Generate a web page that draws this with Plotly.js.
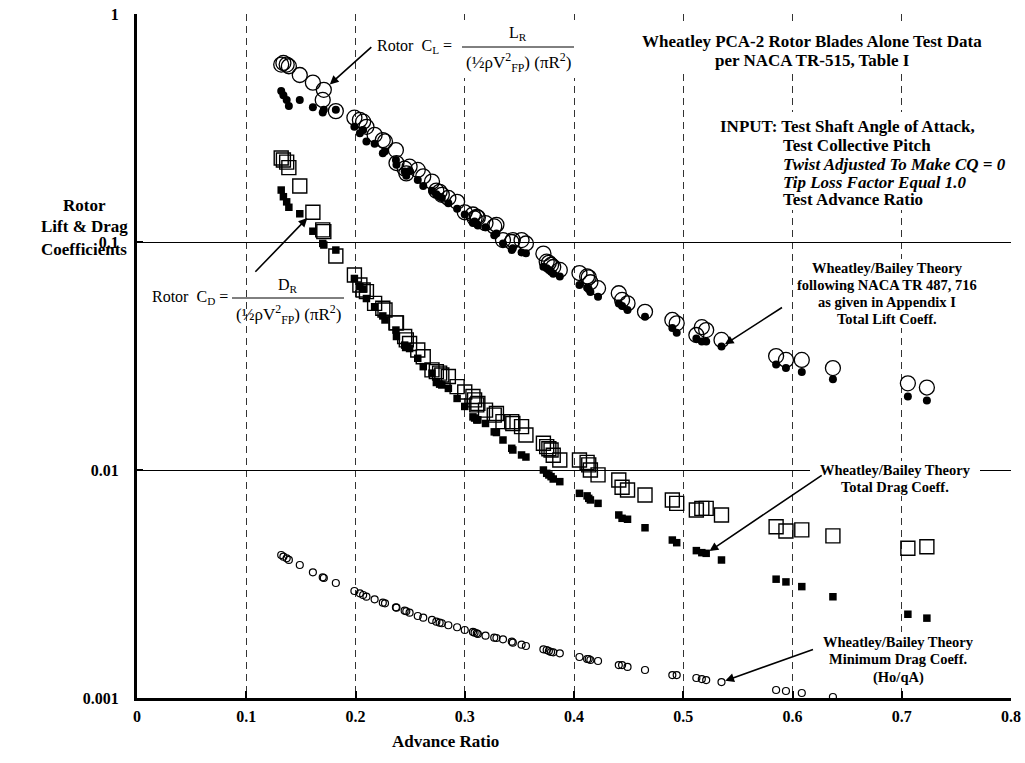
<!DOCTYPE html>
<html>
<head>
<meta charset="utf-8">
<script src="https://cdn.plot.ly/plotly-3.0.1.min.js"></script>
<style>html,body{margin:0;padding:0;background:#fff;}#chart{width:1025px;height:763px;}</style>
</head>
<body>
<div id="chart"></div>
<script>
// Advance ratio of each test run
const mu = [0.132,0.134,0.137,0.139,0.149,0.161,0.170,0.171,0.182,0.199,0.204,0.207,0.210,0.2175,0.225,0.227,0.237,0.2375,0.245,0.2465,0.2495,0.257,0.262,0.270,0.274,0.277,0.279,0.285,0.293,0.300,0.3075,0.309,0.311,0.312,0.319,0.327,0.329,0.335,0.343,0.344,0.352,0.356,0.372,0.375,0.377,0.379,0.381,0.387,0.405,0.412,0.4135,0.415,0.422,0.441,0.444,0.449,0.465,0.490,0.494,0.512,0.517,0.521,0.535,0.585,0.594,0.6085,0.637,0.7056,0.723];
// Test lift coefficient (large open circles)
const clTest = [0.60,0.61,0.60,0.59,0.54,0.50,0.42,0.465,0.375,0.351,0.343,0.337,0.32,0.295,0.28,0.276,0.253,0.222,0.210,0.200,0.214,0.207,0.194,0.184,0.168,0.166,0.161,0.156,0.150,0.135,0.132,0.127,0.129,0.128,0.121,0.117,0.119,0.102,0.100,0.102,0.102,0.0985,0.089,0.082,0.081,0.0793,0.0777,0.0754,0.0731,0.0706,0.070,0.0666,0.0627,0.0596,0.0557,0.0538,0.0494,0.0455,0.044,0.0391,0.0423,0.0411,0.0372,0.0316,0.0304,0.0304,0.028,0.024,0.023];
// Wheatley/Bailey theory total lift coefficient (filled circles)
const clTheory = [0.46,0.44,0.42,0.395,0.42,0.39,0.37,0.38,0.38,0.32,0.30,0.31,0.276,0.27,0.245,0.25,0.229,0.218,0.204,0.195,0.205,0.187,0.176,0.168,0.162,0.158,0.156,0.148,0.140,0.132,0.121,0.123,0.120,0.118,0.116,0.107,0.109,0.0985,0.0922,0.0938,0.090,0.0892,0.0779,0.0768,0.0754,0.074,0.0725,0.0705,0.0648,0.063,0.062,0.0603,0.0575,0.0538,0.0524,0.0503,0.047,0.042,0.040,0.0377,0.0366,0.0366,0.0348,0.029,0.028,0.0269,0.025,0.021,0.0202];
// Test drag coefficient (large open squares)
const cdTest = [0.2336,0.229,0.224,0.212,0.176,0.135,0.113,0.111,0.0868,0.0717,0.0648,0.0616,0.0606,0.0538,0.0512,0.0503,0.0442,0.0442,0.0385,0.0372,0.0359,0.0336,0.0314,0.0275,0.027,0.0266,0.0261,0.0257,0.0232,0.022,0.021,0.0203,0.0193,0.0196,0.0183,0.0174,0.0177,0.0163,0.0163,0.016,0.0155,0.01424,0.0131,0.01266,0.0124,0.01224,0.0116,0.01106,0.01106,0.0108,0.01053,0.0100,0.00952,0.00904,0.0084,0.00817,0.00777,0.00739,0.00714,0.00668,0.00679,0.00679,0.00635,0.00564,0.0054,0.00546,0.00514,0.00454,0.00461];
// Wheatley/Bailey theory total drag coefficient (filled squares)
const cdTheory = [0.169,0.158,0.150,0.142,0.133,0.1115,0.0986,0.097,0.0922,0.0692,0.0637,0.0622,0.0565,0.052,0.0474,0.0455,0.0411,0.0385,0.0353,0.0349,0.0341,0.0309,0.0284,0.0266,0.0242,0.0238,0.0236,0.0228,0.0206,0.019,0.0171,0.0169,0.01657,0.0166,0.016,0.0147,0.0146,0.01354,0.01245,0.01224,0.01164,0.0114,0.0100,0.00967,0.00951,0.00935,0.00913,0.00889,0.0079,0.0077,0.00751,0.00739,0.00714,0.00635,0.00614,0.00608,0.00558,0.00493,0.0048,0.00443,0.00434,0.00431,0.00403,0.00332,0.00323,0.00308,0.00278,0.00233,0.00224];
// Wheatley/Bailey theory minimum drag coefficient Ho/qA (small open circles)
const cdMin = [0.004239,0.004167,0.0041,0.004031,0.003832,0.003559,0.003384,0.00336,0.003194,0.002946,0.002879,0.00283,0.002782,0.002709,0.002618,0.002602,0.002499,0.002489,0.002415,0.002401,0.002367,0.002289,0.00225,0.002199,0.002161,0.00214,0.002127,0.002085,0.002043,0.001987,0.001948,0.001934,0.001922,0.001909,0.001876,0.001839,0.001833,0.001809,0.001766,0.001748,0.001713,0.001691,0.001635,0.001624,0.001607,0.001591,0.001586,0.00157,0.001513,0.001483,0.001483,0.001468,0.001453,0.001395,0.001395,0.001368,0.001327,0.001261,0.001261,0.001224,0.001211,0.001199,0.001175,0.001084,0.001073,0.001052,0.00101,null,null];

const xTickVals = [0,0.1,0.2,0.3,0.4,0.5,0.6,0.7,0.8];
const xTickText = ['0','0.1','0.2','0.3','0.4','0.5','0.6','0.7','0.8'];
const yTickVals = [0.001,0.01,0.1,1];
const yTickText = ['0.001','0.01','0.1','1'];

const SERIF = "'Liberation Serif', 'Times New Roman', Times, serif";
const L = 137, R = 14, T = 14, B = 65, W = 1025, H = 763;
const PW = W - L - R, PH = H - T - B;
const px = v => (v - L) / PW;          // page pixel -> paper x
const py = v => (H - B - v) / PH;      // page pixel -> paper y

const traces = [
  {x: mu, y: clTest, mode: 'markers', type: 'scatter', name: 'CL test',
   marker: {symbol: 'circle-open', size: 15, color: '#000', line: {width: 1.3, color: '#000'}}},
  {x: mu, y: cdTest, mode: 'markers', type: 'scatter', name: 'CD test',
   marker: {symbol: 'square-open', size: 14, color: '#000', line: {width: 1.4, color: '#000'}}},
  {x: mu, y: clTheory, mode: 'markers', type: 'scatter', name: 'CL theory',
   marker: {symbol: 'circle', size: 8, color: '#000'}},
  {x: mu, y: cdTheory, mode: 'markers', type: 'scatter', name: 'CD theory',
   marker: {symbol: 'square', size: 7.5, color: '#000'}},
  {x: mu, y: cdMin, mode: 'markers', type: 'scatter', name: 'CD min', cliponaxis: false,
   marker: {symbol: 'circle-open', size: 7, color: '#000', line: {width: 1.2, color: '#000'}}}
];

function txt(text, cx, cy, size, opts) {
  return Object.assign({
    xref: 'paper', yref: 'paper', x: px(cx), y: py(cy), text: text, showarrow: false,
    xanchor: 'center', yanchor: 'middle',
    font: {family: SERIF, size: size, color: '#000', weight: 'bold'}
  }, opts || {});
}
function reg(text, cx, cy, size, anchor) {
  return txt(text, cx, cy, size, {xanchor: anchor || 'center', font: {family: SERIF, size: size, color: '#000'}});
}
function arrow(i, series, ax, ay, sd) {
  return {xref: 'x', yref: 'y', x: mu[i], y: Math.log10(series[i]), text: '', showarrow: true,
    ax: ax, ay: ay, axref: 'pixel', ayref: 'pixel', arrowhead: 2, arrowsize: 1.1, arrowwidth: 1.6,
    arrowcolor: '#000', standoff: sd};
}
function box(x0, y0, x1, y1) {
  return {type: 'rect', xref: 'paper', yref: 'paper', x0: px(x0), x1: px(x1), y0: py(y1), y1: py(y0),
    fillcolor: '#fff', line: {width: 0}, layer: 'above'};
}
function bar(x0, x1, y) {
  return {type: 'line', xref: 'paper', yref: 'paper', x0: px(x0), x1: px(x1), y0: py(y), y1: py(y),
    line: {color: '#000', width: 1}, layer: 'above'};
}

const annotations = [
  // y axis title
  txt('Rotor', 84, 205, 17),
  txt('Lift &amp; Drag', 84, 227, 17),
  txt('Coefficients', 84, 249, 17),
  // x axis title
  txt('Advance Ratio', 445, 741, 17),
  // header
  txt('Wheatley PCA-2 Rotor Blades Alone Test Data', 812, 41, 17),
  txt('per NACA TR-515, Table I', 812, 60, 17),
  txt('INPUT: Test Shaft Angle of Attack,', 718, 126, 17, {xanchor: 'left'}),
  txt('Test Collective Pitch', 781, 145, 17, {xanchor: 'left'}),
  txt('<i>Twist Adjusted To Make CQ = 0</i>', 781, 164, 17, {xanchor: 'left'}),
  txt('<i>Tip Loss Factor Equal 1.0</i>', 781, 182, 17, {xanchor: 'left'}),
  txt('Test Advance Ratio', 781, 200, 17, {xanchor: 'left'}),
  // CL formula
  reg('Rotor  C<sub>L</sub> =', 375, 46, 16, 'left'),
  reg('L<sub>R</sub>', 518, 33, 16),
  reg('(½ρV<sup>2</sup><sub>FP</sub>) (πR<sup>2</sup>)', 518, 62, 17),
  // CD formula
  reg('Rotor  C<sub>D</sub> =', 150, 297, 16, 'left'),
  reg('D<sub>R</sub>', 288, 285, 16),
  reg('(½ρV<sup>2</sup><sub>FP</sub>) (πR<sup>2</sup>)', 288, 314, 17),
  // theory labels
  txt('Wheatley/Bailey Theory', 887, 268, 14.5),
  txt('following NACA TR 487, 716', 887, 285, 14.5),
  txt('as given in Appendix I', 887, 302, 14.5),
  txt('Total Lift Coeff.', 887, 319, 14.5),
  txt('Wheatley/Bailey Theory', 895, 470, 14.5),
  txt('Total Drag Coeff.', 895, 487, 14.5),
  txt('Wheatley/Bailey Theory', 898, 642, 14.5),
  txt('Minimum Drag Coeff.', 898, 659, 14.5),
  txt('(Ho/qA)', 898, 677, 14.5),
  // arrows
  arrow(7, clTest, 49, -44, 8),
  arrow(5, cdTest, -59, 61, 8),
  arrow(62, clTheory, 62, -40, 4),
  arrow(61, cdTheory, 117, -79, 4),
  arrow(62, cdMin, 93, -33, 4)
];

const shapes = [
  box(368, 20, 584, 78),
  box(628, 24, 996, 70),
  box(704, 112, 992, 210),
  box(806, 259, 970, 328),
  box(810, 461, 980, 496),
  box(818, 632, 978, 688),
  bar(462, 574, 47),
  bar(232, 344, 298)
];

const layout = {
  width: W, height: H,
  margin: {l: L, r: R, t: T, b: B, pad: 0},
  paper_bgcolor: '#fff', plot_bgcolor: '#fff',
  showlegend: false,
  font: {family: SERIF, color: '#000'},
  xaxis: {
    range: [0, 0.8], tickvals: xTickVals, ticktext: xTickText,
    ticks: 'inside', ticklen: 7, tickwidth: 2, tickcolor: '#000',
    showline: true, linewidth: 3, linecolor: '#000',
    showgrid: true, gridcolor: '#333', gridwidth: 1, griddash: '7px,5px',
    zeroline: false, ticklabelstandoff: 2,
    tickfont: {family: SERIF, size: 16, color: '#000', weight: 'bold'}
  },
  yaxis: {
    type: 'log', range: [-3, 0], tickvals: yTickVals, ticktext: yTickText,
    ticks: 'inside', ticklen: 6, tickwidth: 2, tickcolor: '#000',
    showline: true, linewidth: 3, linecolor: '#000',
    showgrid: true, gridcolor: '#000', gridwidth: 1,
    zeroline: false, ticklabelstandoff: 12,
    tickfont: {family: SERIF, size: 16, color: '#000', weight: 'bold'}
  },
  annotations: annotations,
  shapes: shapes
};

Plotly.newPlot('chart', traces, layout, {displayModeBar: false, staticPlot: true});
</script>
</body>
</html>
